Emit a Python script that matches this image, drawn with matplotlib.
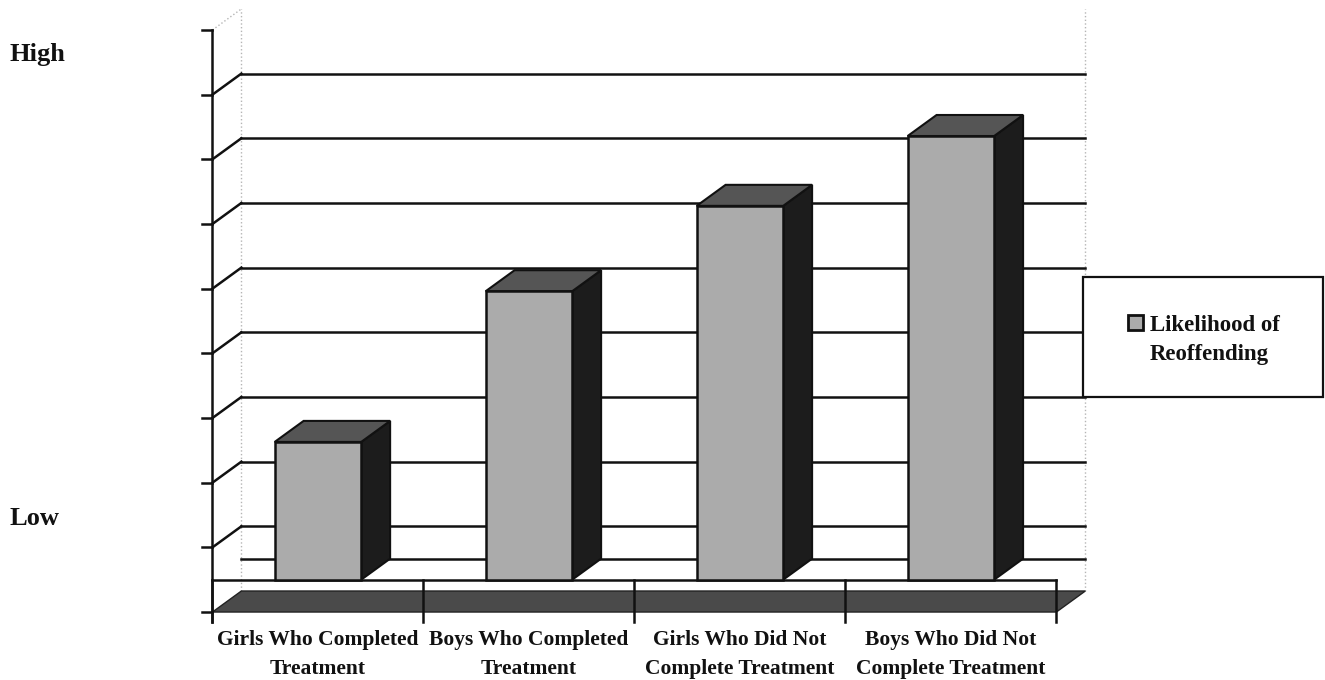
import matplotlib.pyplot as plt
from matplotlib.patches import Polygon, Rectangle

# data (value scale: 0 = bottom tick, 9 = top tick)
categories = ["Girls Who Completed\nTreatment", "Boys Who Completed\nTreatment",
              "Girls Who Did Not\nComplete Treatment", "Boys Who Did Not\nComplete Treatment"]
values = [2.63, 4.96, 6.28, 7.36]
series_name = "Likelihood of\nReoffending"
y_ticks = list(range(10))
grid_levels = list(range(1, 9))
y_labels = {"High": 8.62, "Low": 1.45}

# pseudo 3d look
floor = 0.5            # level the bars stand on
dx, dy = 0.137, 0.325  # depth offset
bar_w = 0.41
front_col = '#ababab'
top_col = '#555555'
side_col = '#1c1c1c'
slab_col = '#4a4a4a'
ink = '#111111'
serif = 'Liberation Serif'

W, H = 1325, 680
fig = plt.figure(figsize=(W / 100, H / 100), dpi=100)
ax = fig.add_axes([0, 0, 1, 1])
ax.set_xlim(-1.507, 4.773)
ax.set_ylim(-1.051, 9.463)
ax.axis('off')

x0, x1 = -0.5, len(categories) - 0.5

# back wall edges (dotted)
ax.plot([x0 + dx, x0 + dx], [dy, y_ticks[-1] + dy], color='#b5b5b5', lw=1, ls=':', zorder=1)
ax.plot([x1 + dx, x1 + dx], [dy, y_ticks[-1] + dy], color='#b5b5b5', lw=1, ls=':', zorder=1)
ax.plot([x0, x0 + dx], [y_ticks[-1], y_ticks[-1] + dy], color='#b5b5b5', lw=1, ls=':', zorder=1)

# gridlines on the back wall + diagonals to the axis
for v in grid_levels:
    ax.plot([x0 + dx, x1 + dx], [v + dy, v + dy], color=ink, lw=1.8, zorder=2)
    ax.plot([x0, x0 + dx], [v, v + dy], color=ink, lw=1.8, zorder=2)
ax.plot([x0 + dx, x1 + dx], [floor + dy, floor + dy], color=ink, lw=1.8, zorder=2)

# value axis with ticks
ax.plot([x0, x0], [-0.15, y_ticks[-1]], color=ink, lw=1.8, zorder=3)
for v in y_ticks:
    ax.plot([x0 - 0.05, x0], [v, v], color=ink, lw=1.8, zorder=3)

# floor slab
slab = Polygon([(x0, 0), (x1, 0), (x1 + dx, dy), (x0 + dx, dy)],
               closed=True, facecolor=slab_col, edgecolor='#222222', lw=1, zorder=2)
ax.add_patch(slab)

# front floor line and category ticks
ax.plot([x0, x1], [floor, floor], color=ink, lw=1.8, zorder=3)
for i in range(len(categories) + 1):
    ax.plot([i - 0.5, i - 0.5], [-0.15, floor], color=ink, lw=1.8, zorder=3)

# bars
for i, v in enumerate(values):
    l, r = i - bar_w / 2, i + bar_w / 2
    side = Polygon([(r, floor), (r + dx, floor + dy), (r + dx, v + dy), (r, v)],
                   closed=True, facecolor=side_col, edgecolor=ink, lw=1.5, zorder=4)
    top = Polygon([(l, v), (r, v), (r + dx, v + dy), (l + dx, v + dy)],
                  closed=True, facecolor=top_col, edgecolor=ink, lw=1.5, zorder=4)
    front = Polygon([(l, floor), (r, floor), (r, v), (l, v)],
                    closed=True, facecolor=front_col, edgecolor=ink, lw=1.8, zorder=5)
    for p in (side, top, front):
        ax.add_patch(p)

# category labels
for i, c in enumerate(categories):
    ax.text(i, -0.65, c, ha='center', va='center', linespacing=1.6, color=ink,
            family=serif, weight='bold', size=15.5)

for t, v in y_labels.items():
    ax.text(-1.46, v, t, ha='left', va='center', color=ink,
            family=serif, weight='bold', size=19)

# legend box, drawn by hand (figure fraction)
fx = lambda px: px / W
fy = lambda py: 1 - py / H
fig.patches.append(Rectangle((fx(1083), fy(397)), fx(1323) - fx(1083), fy(277) - fy(397),
                             transform=fig.transFigure, facecolor='white',
                             edgecolor=ink, lw=1.6, zorder=6))
fig.patches.append(Rectangle((fx(1128), fy(330)), fx(1143) - fx(1128), fy(315) - fy(330),
                             transform=fig.transFigure, facecolor=front_col,
                             edgecolor=ink, lw=2, zorder=7))
fig.text(fx(1150), fy(340), series_name, ha='left', va='center', linespacing=1.55,
         color=ink, family=serif, weight='bold', size=16.5, zorder=8)

fig.savefig('out.png', dpi=100, facecolor='white')
